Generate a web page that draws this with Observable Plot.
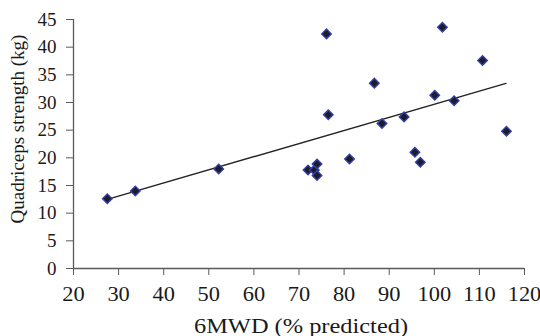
<!DOCTYPE html>
<html>
<head>
<meta charset="utf-8">
<script src="https://cdn.jsdelivr.net/npm/d3@7"></script>
<script src="https://cdn.jsdelivr.net/npm/@observablehq/plot@0.6"></script>
<style>
  html, body { margin: 0; padding: 0; background: #fff; }
</style>
</head>
<body>
<div id="chart"></div>
<script>
// Data
const mwd = [76.1, 101.8, 110.7, 86.7, 100.1, 104.4, 76.5, 88.4, 93.3, 116.0,
             72.0, 73.4, 74.0, 74.0, 81.2, 95.7, 96.9, 27.5, 33.7, 52.2];
const strength = [42.4, 43.6, 37.6, 33.5, 31.3, 30.3, 27.8, 26.2, 27.4, 24.8,
                  17.8, 17.8, 18.9, 16.8, 19.8, 21.0, 19.2, 12.6, 14.0, 18.0];
const trendX = [27.5, 115.9];
const trendY = [12.5, 33.45];
const xTicks = [20, 30, 40, 50, 60, 70, 80, 90, 100, 110, 120];
const yTicks = [0, 5, 10, 15, 20, 25, 30, 35, 40, 45];
const xLabel = "6MWD (% predicted)";
const yLabel = "Quadriceps strength (kg)";

const points = mwd.map((x, i) => ({x, y: strength[i]}));
const trend = trendX.map((x, i) => ({x, y: trendY[i]}));

const chart = Plot.plot({
  width: 540,
  height: 336,
  marginLeft: 73,
  marginRight: 16,
  marginTop: 19,
  marginBottom: 68,
  style: {fontFamily: "'Liberation Serif', 'Times New Roman', serif", fontSize: "19px", background: "#fff", color: "#1a1a1a"},
  x: {domain: [20, 120]},
  y: {domain: [0, 45]},
  marks: [
    Plot.axisX(xTicks, {tickSize: 7, tickPadding: 11, fontSize: 20, label: null, stroke: "#5a5a5a", fill: "#1a1a1a"}),
    Plot.axisY(yTicks, {tickSize: 7, tickPadding: 10, fontSize: 19, label: null, stroke: "#5a5a5a", fill: "#1a1a1a"}),
    Plot.ruleY([0], {stroke: "#5a5a5a", strokeWidth: 1.3}),
    Plot.ruleX([20], {stroke: "#5a5a5a", strokeWidth: 1.3}),
    Plot.line(trend, {x: "x", y: "y", stroke: "#222", strokeWidth: 1.4}),
    Plot.dot(points, {x: "x", y: "y", symbol: "diamond2", r: 4.3, fill: "#1c1c2a", stroke: "#3341a8", strokeWidth: 1.4}),
    Plot.text([yLabel], {frameAnchor: "left", textAnchor: "middle", rotate: -90, dx: -56, dy: -15, fontSize: 19, fill: "#1a1a1a"}),
    Plot.text([xLabel], {frameAnchor: "bottom", textAnchor: "middle", dx: 2, dy: 58, lineAnchor: "middle", fontSize: 20, fill: "#1a1a1a"})
  ]
});

document.getElementById("chart").append(chart);

// Reference glyphs appear horizontally widened on the x axis
chart.querySelectorAll('[aria-label="x-axis tick label"] text').forEach(t => {
  const w = t.getComputedTextLength();
  t.setAttribute("textLength", (w * 1.12).toFixed(1));
  t.setAttribute("lengthAdjust", "spacingAndGlyphs");
});
chart.querySelectorAll("text").forEach(t => {
  if (t.textContent === xLabel) {
    const w = t.getComputedTextLength();
    t.setAttribute("textLength", (w * 1.22).toFixed(1));
    t.setAttribute("lengthAdjust", "spacingAndGlyphs");
  }
});
</script>
</body>
</html>
